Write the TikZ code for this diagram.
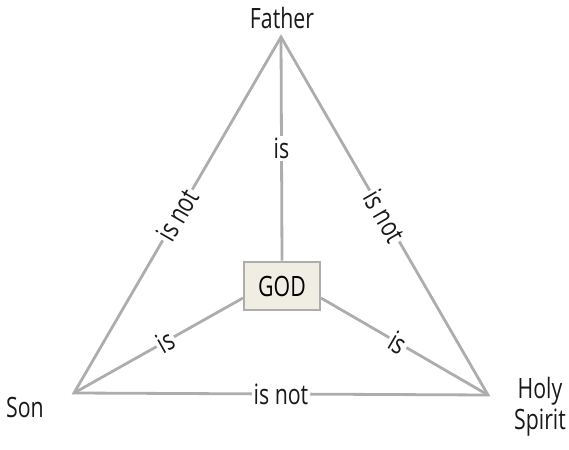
\documentclass[tikz,border=0pt]{standalone}
\usepackage{fontspec}
\setmainfont{Open Sans}[FakeStretch=0.76]
\begin{document}
\begin{tikzpicture}[x=1pt,y=1pt,
  edge/.style={draw=black!32, line width=2.8pt},
  lbl/.style={font=\fontsize{28}{31}\selectfont, text=black!90, inner sep=1.5pt},
  elbl/.style={lbl, fill=white, sloped, inner sep=2pt},
  vlbl/.style={lbl, fill=white, inner sep=2pt},
  godbox/.style={draw=black!32, line width=2.8pt, fill={rgb,255:red,240;green,238;blue,226}, minimum width=76pt, minimum height=48pt, font=\fontsize{28}{31}\selectfont}]
\useasboundingbox (0,0) rectangle (569,449);
\coordinate (F) at (281,412);
\coordinate (S) at (74,56);
\coordinate (H) at (488,54);
\node[godbox] (G) at (282,163) {GOD};
\coordinate (GL) at (243,151);
\coordinate (GR) at (321,151);
\draw[edge, line join=miter] (S) -- (F) -- (H) -- cycle;
\path (S) -- node[elbl, pos=0.5] {is not} (F);
\path (F) -- node[elbl, pos=0.5] {is not} (H);
\path (S) -- node[elbl, pos=0.5] {is not} (H);
\draw[edge] (F) -- node[vlbl, pos=0.5] {is} (G.north);
\draw[edge] (S) -- node[elbl, pos=0.54] {is} (GL);
\draw[edge] (GR) -- node[elbl, pos=0.46] {is} (H);
\node[lbl] (father) at (282,431) {Father};
\node[lbl] (son) at (25,42) {Son};
\node[lbl, align=center] (holy) at (540,42) {Holy\\Spirit};
\end{tikzpicture}
\end{document}
